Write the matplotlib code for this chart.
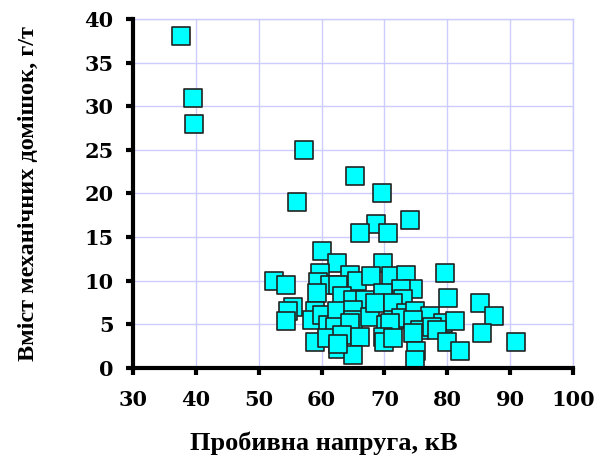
import matplotlib
matplotlib.use("Agg")
import matplotlib.pyplot as plt

voltage_kv = [37.6, 39.5, 39.7, 57.2, 65.3, 69.6, 56.1, 74.0, 68.6, 66.1, 70.5,
              60.1, 62.5, 69.8, 79.6, 52.4, 54.3, 59.7, 64.5, 65.6, 67.8, 71.1, 73.4, 74.6, 72.7,
              59.5, 61.3, 62.6, 59.2, 63.2, 65.0, 66.9, 69.8, 73.0, 80.1, 85.2, 87.4, 85.5, 90.9,
              55.5, 54.7, 54.4, 59.0, 58.4, 60.0, 61.0, 62.4, 65.0, 65.0, 67.7, 68.5, 71.4, 70.3,
              71.4, 73.5, 72.7, 74.8, 77.2, 79.3, 81.3, 74.6, 75.6, 77.5, 78.3, 70.9, 62.1, 64.5,
              58.9, 60.9, 63.2, 66.1, 69.8, 70.0, 71.3, 74.6, 79.9, 82.1, 62.6, 65.0, 75.1, 74.8, 62.6]
impurities = [38.0, 31.0, 28.0, 25.0, 22.0, 20.0, 19.0, 17.0, 16.5, 15.5, 15.5,
              13.4, 12.0, 12.0, 10.9, 10.0, 9.5, 10.9, 10.7, 10.0, 10.5, 10.5, 10.7, 9.0, 9.1,
              9.9, 9.5, 9.5, 8.6, 8.2, 7.8, 7.8, 8.6, 7.9, 8.0, 7.5, 6.0, 4.0, 3.0,
              7.0, 6.5, 5.4, 6.5, 5.5, 6.1, 4.9, 6.5, 6.6, 5.5, 5.9, 7.4, 7.4, 4.9,
              5.5, 6.3, 5.7, 6.5, 6.0, 5.1, 5.4, 5.5, 4.4, 4.7, 4.4, 5.1, 4.7, 5.1,
              3.0, 3.4, 3.8, 3.6, 3.6, 3.0, 3.4, 4.0, 3.0, 1.9, 2.2, 1.5, 2.0, 0.9, 2.8]

x_ticks = [30, 40, 50, 60, 70, 80, 90, 100]
y_ticks = [0, 5, 10, 15, 20, 25, 30, 35, 40]
x_label = "Пробивна напруга, кВ"
y_label = "Вміст механічних домішок, г/т"

plt.rcParams['font.family'] = ['Liberation Serif', 'DejaVu Serif']
plt.rcParams['font.weight'] = 'bold'

fig = plt.figure(figsize=(6.06, 4.63), dpi=100)
ax = fig.add_axes([0.2195, 0.2052, 0.726, 0.7538])

grid_color = '#ccccff'
ax.set_xlim(30, 100)
ax.set_ylim(0, 40)
ax.set_xticks(x_ticks)
ax.set_yticks(y_ticks)
ax.grid(True, color=grid_color, linewidth=1.0, zorder=0)
ax.set_axisbelow(True)

ax.scatter(voltage_kv, impurities, marker='s', s=150, c='#00ffff',
           edgecolors='#222222', linewidths=1.2, zorder=3, clip_on=False)

for side in ['top', 'right']:
    ax.spines[side].set_color(grid_color)
    ax.spines[side].set_linewidth(1.0)
for side in ['left', 'bottom']:
    ax.spines[side].set_color('black')
    ax.spines[side].set_linewidth(3.0)
    ax.spines[side].set_zorder(4)

ax.tick_params(axis='both', direction='out', length=5, width=3, color='black')
ax.tick_params(axis='x', pad=11)
ax.tick_params(axis='y', pad=9)
tick_font = dict(family=['DejaVu Serif'], weight='bold', size=15)
ax.set_xticklabels([str(v) for v in x_ticks], fontdict=tick_font)
ax.set_yticklabels([str(v) for v in y_ticks], fontdict=tick_font)

ax.set_xlabel(x_label, fontsize=19, fontweight='bold', va='baseline')
ax.xaxis.set_label_coords(0.433, -0.235)
ax.set_ylabel(y_label, fontsize=17.5, fontweight='bold', va='center')
ax.yaxis.set_label_coords(-0.2386, 0.5)

fig.savefig('out.png', dpi=100)
